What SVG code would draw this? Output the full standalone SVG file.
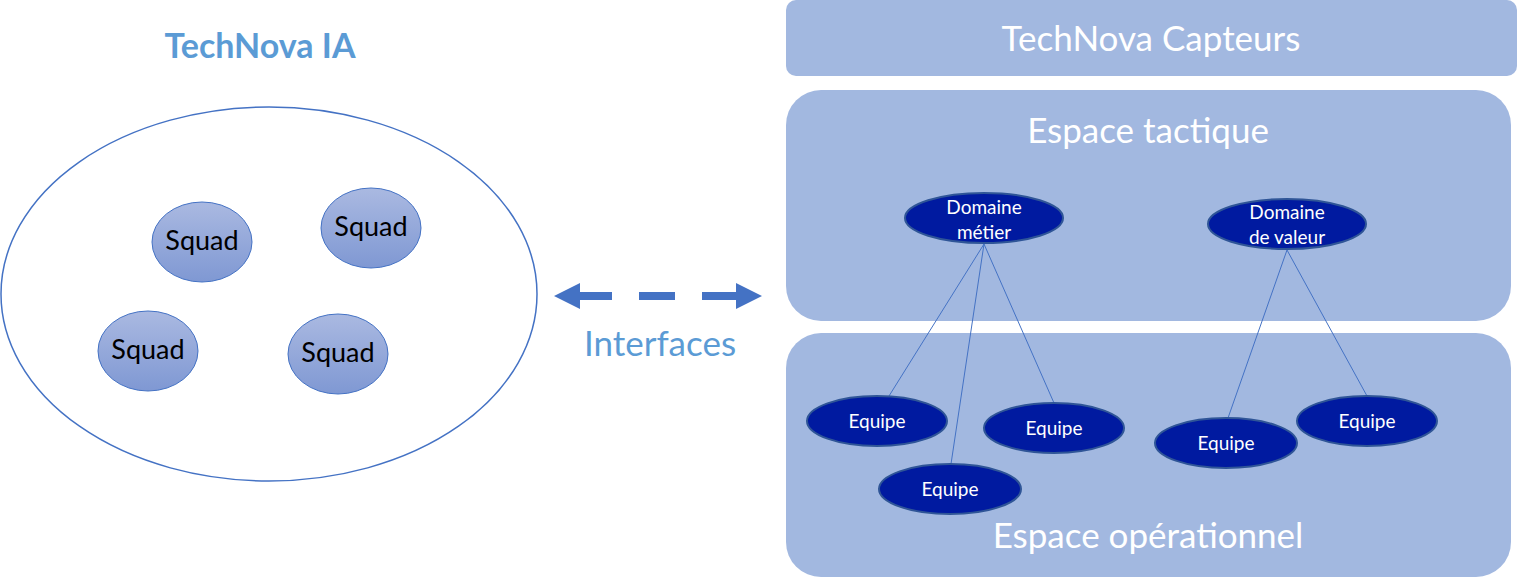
<svg xmlns="http://www.w3.org/2000/svg" width="1517" height="581" viewBox="0 0 1517 581">
<style>
.panel{fill:#A2B8E0}
.ptxt{fill:#ffffff;font-family:Lato,"Open Sans",sans-serif;font-size:35px;text-anchor:middle}
.sq{fill:url(#sqg);stroke:#4472C4;stroke-width:1}
.sqt{fill:#000000;font-family:Lato,"Open Sans",sans-serif;font-size:27px;text-anchor:middle}
.dn{fill:#001AA0;stroke:#2F5597;stroke-width:2}
.dt{fill:#ffffff;font-family:Lato,"Open Sans",sans-serif;font-size:19px;text-anchor:middle}
.ln{stroke:#4472C4;stroke-width:1;fill:none}
.blue{fill:#4472C4}
</style>
<defs>
<linearGradient id="sqg" x1="0" y1="0" x2="0" y2="1">
<stop offset="0" stop-color="#AAB9E1"/>
<stop offset="1" stop-color="#7F98D3"/>
</linearGradient>
</defs>
<rect width="1517" height="581" fill="#ffffff"/>

<g id="technova-ia">
<text x="260" y="58" fill="#5B9BD5" font-family="Lato,'Open Sans',sans-serif" font-size="34" font-weight="bold" text-anchor="middle">TechNova IA</text>
<ellipse cx="269" cy="294" rx="268" ry="187" fill="none" stroke="#4472C4" stroke-width="1.5"/>
</g>
<g id="squad1"><ellipse class="sq" cx="202" cy="242" rx="50" ry="40"/><text class="sqt" x="202" y="250">Squad</text></g>
<g id="squad2"><ellipse class="sq" cx="371" cy="228" rx="50" ry="40"/><text class="sqt" x="371" y="236">Squad</text></g>
<g id="squad3"><ellipse class="sq" cx="148" cy="351" rx="50" ry="40"/><text class="sqt" x="148" y="359">Squad</text></g>
<g id="squad4"><ellipse class="sq" cx="338" cy="354" rx="50" ry="40"/><text class="sqt" x="338" y="362">Squad</text></g>

<g id="interfaces">
<polygon class="blue" points="554,296 580,283 580,292 612,292 612,300 580,300 580,309"/>
<rect class="blue" x="639" y="292" width="36" height="8"/>
<polygon class="blue" points="762,296 736,283 736,292 702,292 702,300 736,300 736,309"/>
<text x="660" y="356" fill="#5B9BD5" font-family="Lato,'Open Sans',sans-serif" font-size="35" text-anchor="middle">Interfaces</text>
</g>

<g id="technova-capteurs">
<rect class="panel" x="786" y="0" width="731" height="76" rx="10"/>
<text class="ptxt" x="1151" y="51">TechNova Capteurs</text>
</g>
<g id="espace-tactique">
<rect class="panel" x="786" y="90" width="725" height="231" rx="35"/>
<text class="ptxt" x="1148" y="143">Espace tactique</text>
</g>
<g id="espace-operationnel">
<rect class="panel" x="786" y="333" width="725" height="244" rx="35"/>
<text class="ptxt" x="1148" y="548">Espace opérationnel</text>
</g>

<g id="connectors">
<line class="ln" x1="984" y1="244" x2="889" y2="396"/>
<line class="ln" x1="984" y1="244" x2="951" y2="464"/>
<line class="ln" x1="984" y1="244" x2="1054" y2="403"/>
<line class="ln" x1="1287" y1="250" x2="1228" y2="418"/>
<line class="ln" x1="1287" y1="250" x2="1367" y2="396"/>
</g>

<g id="domaine-metier"><ellipse class="dn" cx="984" cy="218" rx="79" ry="25"/><text class="dt" x="984" y="214">Domaine</text><text class="dt" x="984" y="239">métier</text></g>
<g id="domaine-valeur"><ellipse class="dn" cx="1287" cy="224" rx="79" ry="25"/><text class="dt" x="1287" y="219">Domaine</text><text class="dt" x="1287" y="244">de valeur</text></g>

<g id="equipe1"><ellipse class="dn" cx="877" cy="421" rx="70" ry="25"/><text class="dt" x="877" y="428">Equipe</text></g>
<g id="equipe2"><ellipse class="dn" cx="1054" cy="428" rx="70" ry="25"/><text class="dt" x="1054" y="435">Equipe</text></g>
<g id="equipe3"><ellipse class="dn" cx="950" cy="489" rx="71" ry="25"/><text class="dt" x="950" y="496">Equipe</text></g>
<g id="equipe4"><ellipse class="dn" cx="1226" cy="443" rx="71" ry="25"/><text class="dt" x="1226" y="450">Equipe</text></g>
<g id="equipe5"><ellipse class="dn" cx="1367" cy="421" rx="70" ry="25"/><text class="dt" x="1367" y="428">Equipe</text></g>
</svg>
